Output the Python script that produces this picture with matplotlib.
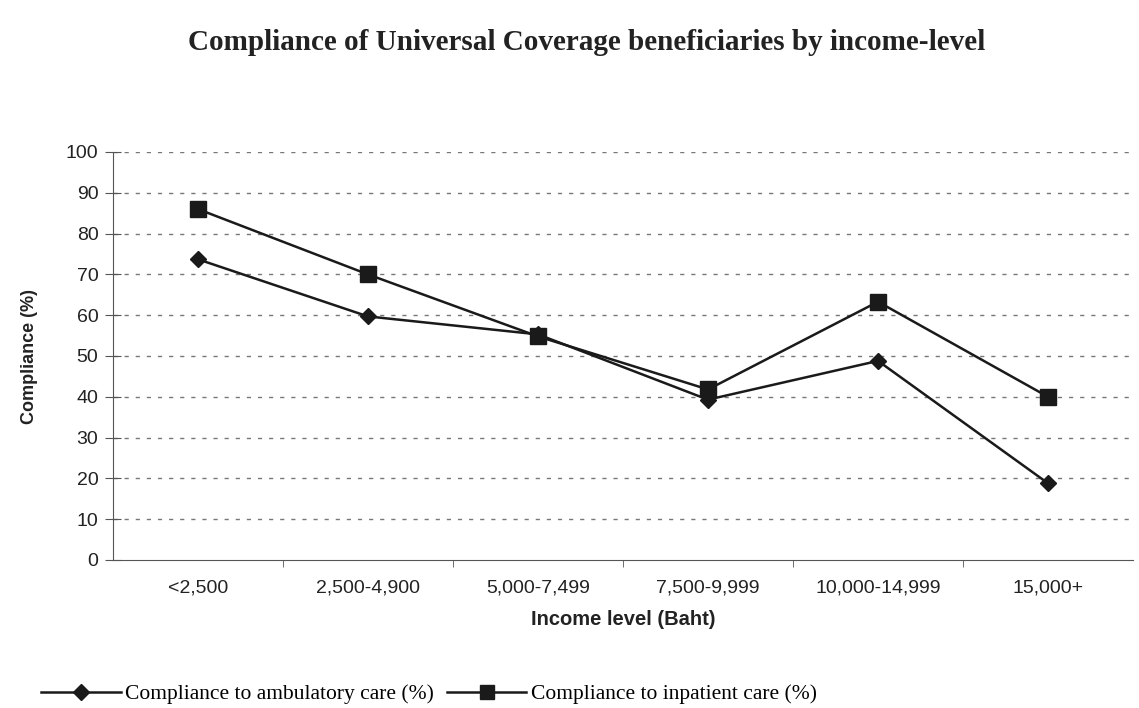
import matplotlib
matplotlib.use("Agg")
import matplotlib.pyplot as plt
import numpy as np

income_levels = ["<2,500", "2,500-4,900", "5,000-7,499", "7,500-9,999", "10,000-14,999", "15,000+"]
ambulatory = [73.7, 59.7, 55.3, 39.3, 48.8, 18.8]
inpatient = [86.0, 70.0, 54.8, 41.8, 63.3, 40.0]
y_ticks = list(range(0, 101, 10))

plt.rcParams["font.family"] = ["Liberation Sans", "DejaVu Sans"]

fig = plt.figure(figsize=(11.39, 7.08), dpi=100)
ax = fig.add_axes([113 / 1139, 1 - 560 / 708, 1020 / 1139, 408 / 708])

x = np.arange(len(income_levels))
ax.plot(x, ambulatory, color="#1a1a1a", lw=1.8, marker="D", ms=8.5,
        label="Compliance to ambulatory care (%)")
ax.plot(x, inpatient, color="#1a1a1a", lw=1.8, marker="s", ms=11,
        label="Compliance to inpatient care (%)")

ax.set_xlim(-0.5, len(income_levels) - 0.5)
ax.set_ylim(0, 100)
ax.set_yticks(y_ticks)
ax.tick_params(axis="y", labelsize=14, length=11, direction="inout",
               color="#555555", pad=5, labelcolor="#222222")
ax.set_xticks(x)
ax.set_xticklabels(income_levels, fontsize=14, color="#222222")
ax.tick_params(axis="x", length=0, pad=14)
ax.set_xticks(x[:-1] + 0.5, minor=True)
ax.tick_params(axis="x", which="minor", length=5, color="#555555")

for yv in y_ticks[1:]:
    ax.axhline(yv, color="#777777", lw=1, ls=(0, (3, 5)), zorder=0)

ax.spines["top"].set_visible(False)
ax.spines["right"].set_visible(False)
ax.spines["left"].set_color("#555555")
ax.spines["bottom"].set_color("#555555")

ax.set_ylabel("Compliance (%)", fontsize=13, fontweight="bold", labelpad=20,
              color="#222222")
ax.set_xlabel("Income level (Baht)", fontsize=14.5, fontweight="bold", labelpad=10,
              color="#222222")

fig.text(0.515, 0.94, "Compliance of Universal Coverage beneficiaries by income-level",
         ha="center", va="center", fontsize=21, fontweight="bold",
         family="Liberation Serif", color="#222222")

fig.legend(loc="lower left", bbox_to_anchor=(0.019, -0.022), ncol=2, frameon=False,
           prop={"family": "Liberation Serif", "size": 15.5}, handlelength=3.7,
           handletextpad=0.2, columnspacing=0.6, markerscale=0.9)

fig.savefig("out.png", dpi=100, facecolor="white")
